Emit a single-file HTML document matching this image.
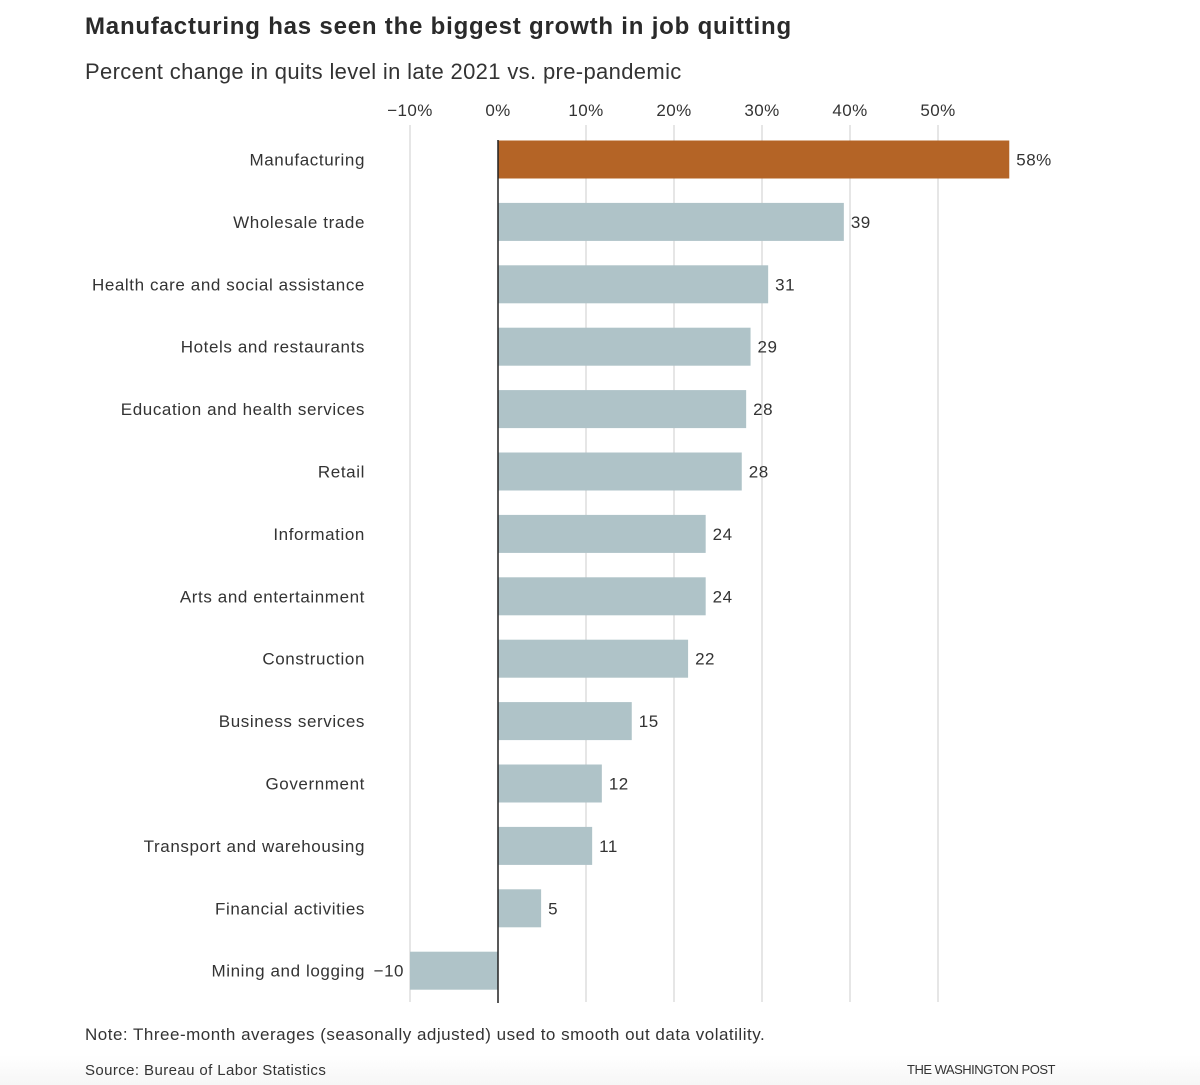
<!DOCTYPE html>
<html><head><meta charset="utf-8"><style>
body{margin:0;width:1200px;height:1085px;overflow:hidden;background:linear-gradient(#fff 0,#fff 1055px,#f6f6f6 1085px);font-family:"Liberation Sans",sans-serif;color:#222}
.t{position:absolute;white-space:nowrap}
</style></head><body>
<div class="t" style="left:85px;top:13px;font-size:24px;font-weight:bold;color:#2a2a2a;letter-spacing:0.8px">Manufacturing has seen the biggest growth in job quitting</div>
<div class="t" style="left:85px;top:59px;font-size:22px;color:#333;letter-spacing:0.35px">Percent change in quits level in late 2021 vs. pre-pandemic</div>
<svg id="c" width="1200" height="1085" style="position:absolute;left:0;top:0" font-family="Liberation Sans, sans-serif"></svg>
<div class="t" style="left:85px;top:1025px;font-size:17px;color:#333;letter-spacing:0.5px">Note: Three-month averages (seasonally adjusted) used to smooth out data volatility.</div>
<div class="t" style="left:85px;top:1062px;font-size:15px;color:#333;letter-spacing:0.4px">Source: Bureau of Labor Statistics</div>
<div class="t" style="left:907px;top:1062px;font-size:13px;color:#333;letter-spacing:-0.5px">THE WASHINGTON POST</div>
<script>
const categories=["Manufacturing","Wholesale trade","Health care and social assistance","Hotels and restaurants","Education and health services","Retail","Information","Arts and entertainment","Construction","Business services","Government","Transport and warehousing","Financial activities","Mining and logging"];
const values=[58.1,39.3,30.7,28.7,28.2,27.7,23.6,23.6,21.6,15.2,11.8,10.7,4.9,-10];
const labels=["58%","39","31","29","28","28","24","24","22","15","12","11","5","\u221210"];
const ticks=[-10,0,10,20,30,40,50];
const tickLabels=["\u221210%","0%","10%","20%","30%","40%","50%"];
const NS="http://www.w3.org/2000/svg",svg=document.getElementById('c');
const x=v=>498+v*8.8, y=i=>159.5+i*62.4;
function mk(t,a,txt){const e=document.createElementNS(NS,t);for(const k in a)e.setAttribute(k,a[k]);if(txt!==undefined)e.textContent=txt;svg.appendChild(e);return e;}
ticks.forEach((t,i)=>{
 if(t!==0){const g=mk('line',{x1:x(t),x2:x(t),y1:125,y2:1002,stroke:'#ddd','stroke-width':1.5});
 
 }
 const l=mk('text',{x:x(t),y:116,'font-size':17,'text-anchor':'middle',fill:'#333','letter-spacing':0.4},tickLabels[i]);
 
 
});
categories.forEach((c,i)=>{
 const v=values[i];
 const b=mk('rect',{x:Math.min(x(0),x(v)),y:y(i)-19,width:Math.abs(x(v)-x(0)),height:38,fill:i===0?'#b46426':'#afc3c8'});
 
 
 const neg=v<0;
 const cl=mk('text',{x:neg?x(v)-45:365,y:y(i)+6,'font-size':17,'text-anchor':'end',fill:'#333','letter-spacing':0.6},c);
 
 
 const vl=mk('text',{x:neg?x(v)-6:x(v)+7,y:y(i)+6,'font-size':17,'text-anchor':neg?'end':'start',fill:'#333','letter-spacing':0.5},labels[i]);
 
 
});
const z=mk('line',{x1:x(0),x2:x(0),y1:140,y2:1003,stroke:'#222','stroke-width':1.5});


</script>
</body></html>
